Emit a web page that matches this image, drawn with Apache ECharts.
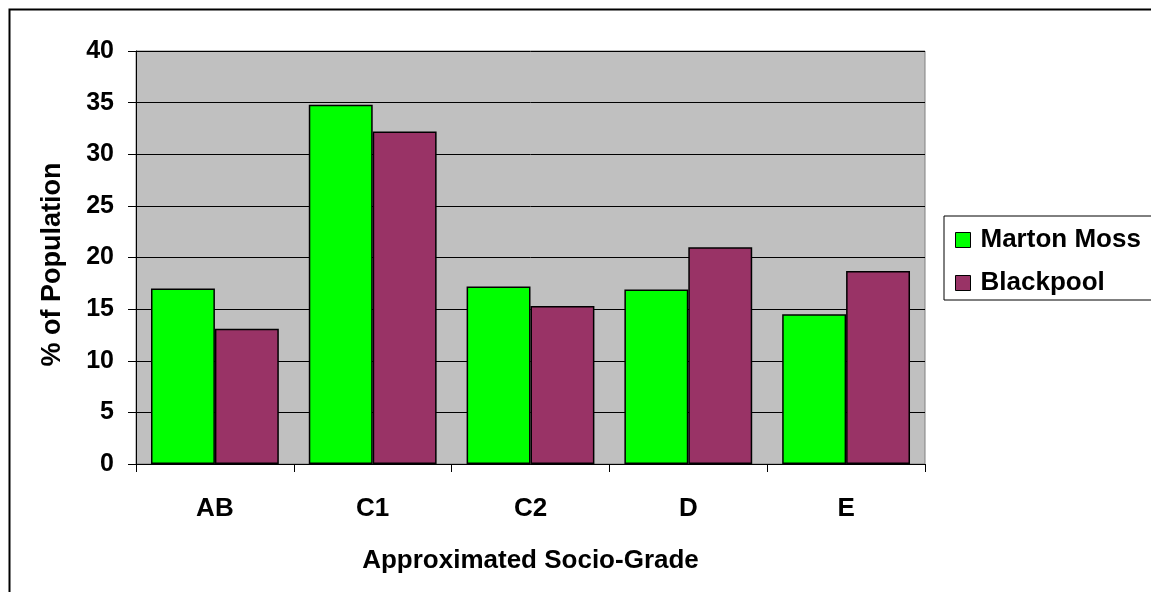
<!DOCTYPE html>
<html>
<head>
<meta charset="utf-8">
<script src="https://cdn.jsdelivr.net/npm/echarts@6/dist/echarts.min.js"></script>
<style>
html,body{margin:0;padding:0;background:#fff;}
#chart{width:1151px;height:592px;}
</style>
</head>
<body>
<div id="chart"></div>
<script>
const categories = ['AB', 'C1', 'C2', 'D', 'E'];
const martonMoss = [17.0, 34.8, 17.2, 16.9, 14.5];
const blackpool = [13.1, 32.2, 15.3, 21.0, 18.7];
const yTicks = { min: 0, max: 40, interval: 5 };

const FONT = '"Liberation Sans", Arial, sans-serif';
const chart = echarts.init(document.getElementById('chart'), null, { renderer: 'canvas' });

chart.setOption({
  backgroundColor: '#ffffff',
  animation: false,
  graphic: [{
    type: 'rect',
    shape: { x: 9.5, y: 9.5, width: 1200, height: 650 },
    style: { fill: 'none', stroke: '#000', lineWidth: 2 },
    silent: true,
    z: 100
  }],
  grid: {
    left: 136, right: 226, top: 51, bottom: 128,
    show: true,
    backgroundColor: '#C0C0C0',
    borderColor: '#808080',
    borderWidth: 1
  },
  legend: {
    orient: 'vertical',
    left: 944, top: 216,
    padding: [11, 40, 4, 11],
    itemWidth: 15, itemHeight: 15,
    itemGap: 17,
    borderColor: '#000', borderWidth: 1,
    backgroundColor: '#fff',
    icon: 'rect',
    itemStyle: { borderColor: '#000', borderWidth: 1 },
    textStyle: { fontFamily: FONT, fontWeight: 'bold', fontSize: 26, lineHeight: 26, color: '#000', padding: [0, 0, 0, 5] },
    data: ['Marton Moss', 'Blackpool']
  },
  xAxis: {
    type: 'category',
    data: categories,
    name: 'Approximated Socio-Grade',
    nameLocation: 'middle',
    nameGap: 84,
    nameTextStyle: { fontFamily: FONT, fontWeight: 'bold', fontSize: 26, color: '#000' },
    axisLine: { lineStyle: { color: '#000', width: 1 } },
    axisTick: { show: true, length: 8, lineStyle: { color: '#000' } },
    axisLabel: { fontFamily: FONT, fontWeight: 'bold', fontSize: 26, color: '#000', margin: 32 },
    splitLine: { show: false }
  },
  yAxis: {
    type: 'value',
    min: yTicks.min, max: yTicks.max, interval: yTicks.interval,
    name: '% of Population',
    nameLocation: 'middle',
    nameGap: 70,
    nameRotate: 90,
    nameTextStyle: { fontFamily: FONT, fontWeight: 'bold', fontSize: 27, color: '#000', padding: [0, 14, 0, 0] },
    axisLine: { show: true, lineStyle: { color: '#000', width: 1 } },
    axisTick: { show: true, length: 8, lineStyle: { color: '#000' } },
    axisLabel: { fontFamily: FONT, fontWeight: 'bold', fontSize: 25, color: '#000', margin: 22 },
    splitLine: { show: true, lineStyle: { color: '#000', width: 1 } }
  },
  series: [
    {
      name: 'Marton Moss', type: 'bar', data: martonMoss,
      barGap: '0%', barCategoryGap: '19%',
      itemStyle: { color: '#00FF00', borderColor: '#000', borderWidth: 1.5 }
    },
    {
      name: 'Blackpool', type: 'bar', data: blackpool,
      barGap: '0%', barCategoryGap: '19%',
      itemStyle: { color: '#993366', borderColor: '#000', borderWidth: 1.5 }
    }
  ]
});
</script>
</body>
</html>
